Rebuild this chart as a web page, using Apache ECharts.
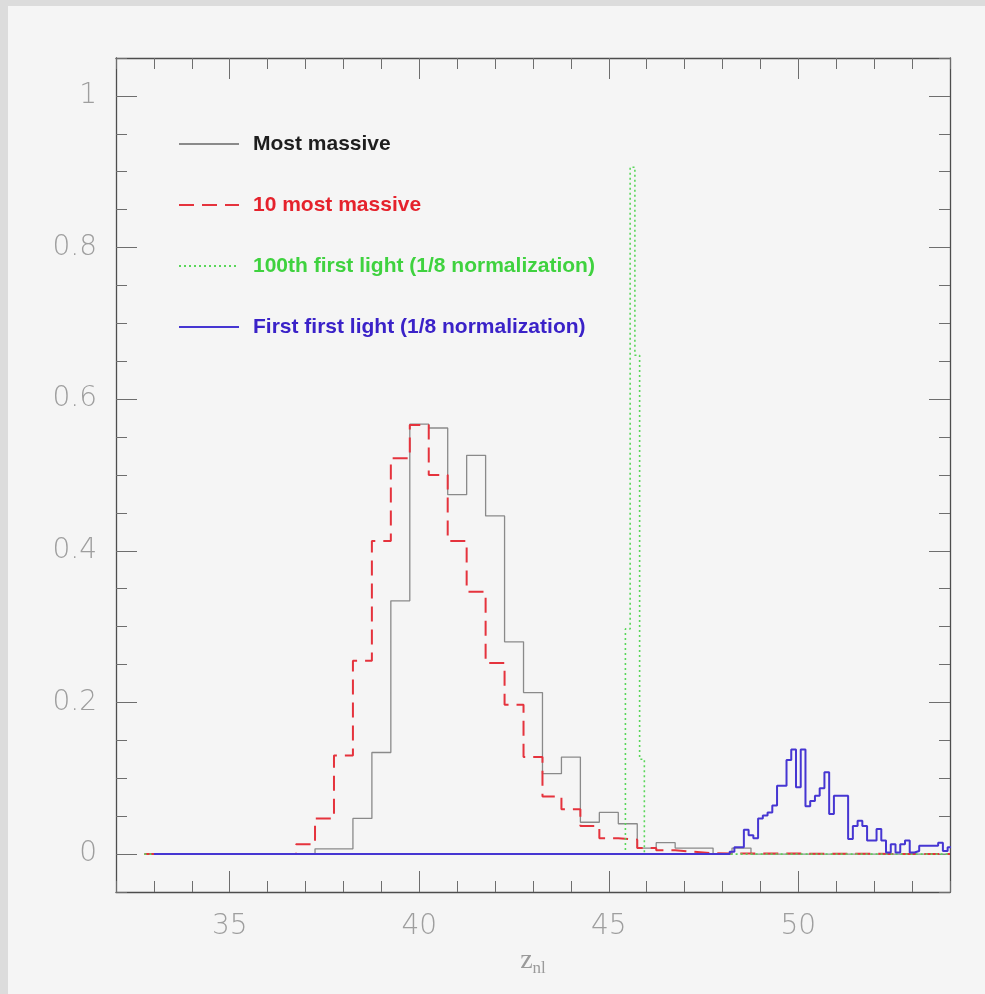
<!DOCTYPE html>
<html>
<head>
<meta charset="utf-8">
<script src="https://cdn.jsdelivr.net/npm/echarts@6/dist/echarts.min.js"></script>
<style>
  html, body { margin: 0; padding: 0; width: 985px; height: 994px; background: #dcdcdc; overflow: hidden; }
  #panel { position: absolute; left: 8px; top: 6px; right: 0; bottom: 0; background: #f5f5f5; }
  #chart { position: absolute; left: 0; top: 0; width: 985px; height: 994px; }
</style>
</head>
<body>
<div id="panel"></div>
<div id="chart"></div>
<script>
// Histograms of z_nl: each series is a list of bin edges and one height per bin.
const mostMassiveEdges = [32.75, 37.25, 37.75, 38.25, 38.75, 39.25, 39.75, 40.25, 40.75, 41.25, 41.75,
  42.25, 42.75, 43.25, 43.75, 44.25, 44.75, 45.25, 45.75, 46.25, 46.75, 47.25, 47.75, 48.25, 48.75, 54];
const mostMassiveHeights = [0, 0.007, 0.007, 0.047, 0.134, 0.334, 0.567, 0.562, 0.474, 0.526, 0.446,
  0.280, 0.213, 0.106, 0.128, 0.042, 0.055, 0.040, 0.008, 0.015, 0.008, 0.008, 0, 0.008, 0];

const tenMostMassiveEdges = [32.75, 36.75, 37.25, 37.75, 38.25, 38.75, 39.25, 39.75, 40.25, 40.75, 41.25,
  41.75, 42.25, 42.75, 43.25, 43.75, 44.25, 44.75, 45.25, 45.75, 46.25, 46.75, 47.25, 47.75, 54];
const tenMostMassiveHeights = [0, 0.013, 0.047, 0.130, 0.255, 0.413, 0.522, 0.566, 0.500, 0.413, 0.346,
  0.252, 0.197, 0.128, 0.076, 0.059, 0.037, 0.021, 0.019, 0.008, 0.005, 0.003, 0.001, 0];

const hundredthLightEdges = [32.75, 45.4375, 45.5625, 45.6875, 45.8125, 45.9375, 54];
const hundredthLightHeights = [0, 0.297, 0.906, 0.658, 0.125, 0];

const firstLightEdges = [33, 48.1875, 48.3125, 48.4375, 48.5625, 48.6875, 48.8125, 48.9375, 49.0625,
  49.1875, 49.3125, 49.4375, 49.5625, 49.6875, 49.8125, 49.9375, 50.0625, 50.1875, 50.3125, 50.4375,
  50.5625, 50.6875, 50.8125, 50.9375, 51.0625, 51.1875, 51.3125, 51.4375, 51.5625, 51.6875, 51.8125,
  51.9375, 52.0625, 52.1875, 52.3125, 52.4375, 52.5625, 52.6875, 52.8125, 52.9375, 53.0625, 53.1875,
  53.3125, 53.4375, 53.5625, 53.6875, 53.8125, 53.9375, 54.0625];
const firstLightHeights = [0, 0.003, 0.009, 0.009, 0.032, 0.025, 0.021, 0.047, 0.051,
  0.055, 0.064, 0.090, 0.090, 0.124, 0.138, 0.088, 0.138, 0.063, 0.070, 0.077,
  0.087, 0.108, 0.053, 0.077, 0.077, 0.077, 0.020, 0.037, 0.044, 0.037, 0.018,
  0.018, 0.033, 0.018, 0.002, 0.013, 0.002, 0.013, 0.018, 0.002, 0.004, 0.011,
  0.011, 0.011, 0.011, 0.015, 0.004, 0.009];

const seriesNames = ['Most massive', '10 most massive',
  '100th first light (1/8 normalization)', 'First first light (1/8 normalization)'];

// Axis ranges and tick positions
const xRange = [32, 54];
const yRange = [-0.05, 1.05];
const xMajorTicks = [35, 40, 45, 50];
const yMajorTicks = [0, 0.2, 0.4, 0.6, 0.8, 1];
const yTickLabels = ['0', '0.2', '0.4', '0.6', '0.8', '1'];

// Turn edges + heights into step points: one point per bin's left edge, plus the closing right edge.
function histogramPoints(edges, heights) {
  const pts = heights.map((h, i) => [edges[i], h]);
  pts.push([edges[edges.length - 1], heights[heights.length - 1]]);
  return pts;
}

const frameColor = '#4d4d4d';
const tickColor = '#6e6e6e';
const labelFont = { color: '#9e9e9e', fontFamily: 'DejaVu Sans', fontWeight: 200, fontSize: 28 };

function xAxisDef(position, major, withLabels, withName) {
  const ax = {
    type: 'value', position: position, min: xRange[0], max: xRange[1],
    axisLine: { show: major, onZero: false, lineStyle: { color: frameColor, width: 1.3 } },
    splitLine: { show: false },
    axisTick: { show: true, inside: true, length: major ? 21 : 11, lineStyle: { color: tickColor, width: 1 } },
    axisLabel: { show: false }
  };
  if (major) {
    ax.axisTick.customValues = xMajorTicks;
    ax.axisLabel = Object.assign({ show: withLabels, customValues: xMajorTicks, margin: 21 }, labelFont);
  } else {
    ax.interval = 1;
  }
  if (withName) {
    ax.name = '{z|z}{s|nl}';
    ax.nameLocation = 'middle';
    ax.nameGap = 53;
    ax.nameTextStyle = {
      rich: {
        z: { fontFamily: 'Liberation Serif', fontSize: 28, color: '#9a9a9a', lineHeight: 32, verticalAlign: 'middle' },
        s: { fontFamily: 'Liberation Serif', fontSize: 17, color: '#9a9a9a', lineHeight: 14, verticalAlign: 'bottom' }
      }
    };
  }
  return ax;
}

function yAxisDef(position, major, withLabels) {
  const ax = {
    type: 'value', position: position, min: yRange[0], max: yRange[1],
    axisLine: { show: major, onZero: false, lineStyle: { color: frameColor, width: 1.3 } },
    splitLine: { show: false },
    axisTick: { show: true, inside: true, length: major ? 21 : 11, lineStyle: { color: tickColor, width: 1 } },
    axisLabel: { show: false }
  };
  if (major) {
    ax.axisTick.customValues = yMajorTicks;
    ax.axisLabel = Object.assign({
      show: withLabels, customValues: yMajorTicks, margin: 19, padding: [7, 0, 0, 0],
      formatter: v => yTickLabels[yMajorTicks.findIndex(t => Math.abs(t - v) < 1e-9)]
    }, labelFont);
  } else {
    ax.interval = 0.05;
  }
  return ax;
}

const styles = [
  { color: '#8a8a8a', width: 1.3, type: 'solid', text: '#1e1e1e' },
  { color: '#e5333d', width: 2, type: [15, 8], text: '#e5222c' },
  { color: '#5ad65a', width: 1.6, type: [2, 3], text: '#3fd23f' },
  { color: '#4636d2', width: 2, type: 'solid', text: '#3a22c8' }
];

const dataSets = [
  histogramPoints(mostMassiveEdges, mostMassiveHeights),
  histogramPoints(tenMostMassiveEdges, tenMostMassiveHeights),
  histogramPoints(hundredthLightEdges, hundredthLightHeights),
  histogramPoints(firstLightEdges, firstLightHeights)
];

const chart = echarts.init(document.getElementById('chart'), null, { renderer: 'canvas' });
chart.setOption({
  animation: false,
  backgroundColor: 'transparent',
  grid: { left: 116, right: 35, top: 58, bottom: 102, containLabel: false },
  xAxis: [
    xAxisDef('bottom', true, true, true),
    xAxisDef('bottom', false, false, false),
    xAxisDef('top', true, false, false),
    xAxisDef('top', false, false, false)
  ],
  yAxis: [
    yAxisDef('left', true, true),
    yAxisDef('left', false, false),
    yAxisDef('right', true, false),
    yAxisDef('right', false, false)
  ],
  legend: {
    orient: 'vertical', left: 178, top: 133, padding: 0,
    itemWidth: 60, itemHeight: 14, itemGap: 39,
    selectedMode: false,
    itemStyle: { opacity: 0, borderWidth: 0 },
    textStyle: { fontFamily: 'Liberation Sans', fontWeight: 'bold', fontSize: 21, lineHeight: 22, padding: [0, 0, 0, 9] },
    data: seriesNames.map((n, i) => ({ name: n, textStyle: { color: styles[i].text } }))
  },
  series: seriesNames.map((n, i) => ({
    name: n,
    type: 'line',
    step: 'end',
    xAxisIndex: 0, yAxisIndex: 0,
    symbol: 'none',
    showSymbol: false,
    clip: true,
    silent: true,
    z: 2 + i,
    lineStyle: { color: styles[i].color, width: styles[i].width, type: styles[i].type },
    itemStyle: { color: styles[i].color },
    data: dataSets[i]
  }))
});
</script>
</body>
</html>
